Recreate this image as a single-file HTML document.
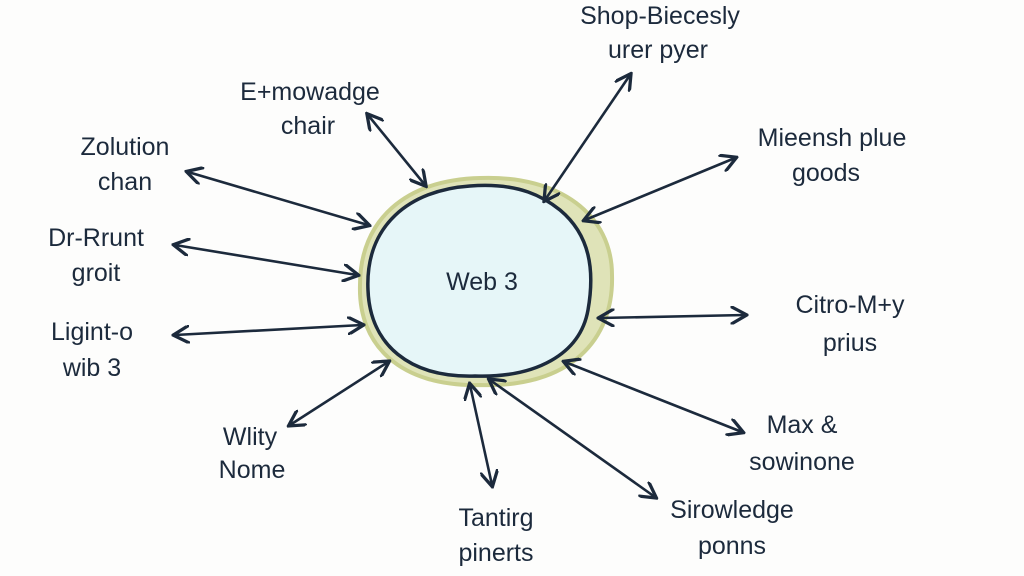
<!DOCTYPE html>
<html><head><meta charset="utf-8"><style>
html,body{margin:0;padding:0;background:#fdfdfc;}
svg{display:block}
text{font-family:"Liberation Sans",sans-serif;font-size:25px;fill:#1c2a3c;text-anchor:middle;}
</style></head><body>
<svg width="1024" height="576" viewBox="0 0 1024 576">
<defs>
<marker id="a" viewBox="0 0 10 10" refX="8" refY="5" markerWidth="7" markerHeight="7" orient="auto-start-reverse">
<path d="M0,0 L9,5 L0,10" fill="none" stroke="#1c2a3c" stroke-width="1.8"/>
</marker>
</defs>
<rect width="1024" height="576" fill="#fdfdfc"/>
<path d="M480,178 C560,175 612,215 612,275 C614,340 570,388 480,385 C400,387 358,345 360,285 C360,220 405,180 480,178 Z" fill="#dfe3b8" stroke="#c9cf8f" stroke-width="4"/>
<path d="M470,186 C520,182 545,198 560,210 C590,235 595,270 588,310 C580,355 535,378 475,376 C410,378 370,345 368,290 C365,225 410,190 470,186 Z" fill="#e6f6f8" stroke="#1c2a3c" stroke-width="3.5"/>
<text x="482" y="290" font-size="27">Web 3</text>
<g stroke="#1c2a3c" stroke-width="2.6" fill="none" marker-start="url(#a)" marker-end="url(#a)">
<line x1="368" y1="115" x2="425" y2="185"/>
<line x1="630" y1="75" x2="545" y2="200"/>
<line x1="735" y1="158" x2="585" y2="220"/>
<line x1="188" y1="172" x2="368" y2="225"/>
<line x1="175" y1="245" x2="357" y2="275"/>
<line x1="175" y1="335" x2="362" y2="325"/>
<line x1="600" y1="318" x2="745" y2="315"/>
<line x1="290" y1="425" x2="388" y2="362"/>
<line x1="565" y1="362" x2="742" y2="432"/>
<line x1="470" y1="385" x2="492" y2="485"/>
<line x1="490" y1="380" x2="655" y2="497"/>
</g>
<text x="660" y="24">Shop-Biecesly</text><text x="658" y="58">urer pyer</text>
<text x="310" y="100">E+mowadge</text><text x="308" y="134">chair</text>
<text x="832" y="146">Mieensh plue</text><text x="826" y="181">goods</text>
<text x="125" y="155">Zolution</text><text x="125" y="190">chan</text>
<text x="96" y="246">Dr-Rrunt</text><text x="96" y="281">groit</text>
<text x="92" y="340">Ligint-o</text><text x="92" y="376">wib 3</text>
<text x="850" y="313">Citro-M+y</text><text x="850" y="351">prius</text>
<text x="250" y="445">Wlity</text><text x="252" y="478">Nome</text>
<text x="802" y="433">Max &amp;</text><text x="802" y="470">sowinone</text>
<text x="496" y="526">Tantirg</text><text x="496" y="561">pinerts</text>
<text x="732" y="518">Sirowledge</text><text x="732" y="554">ponns</text>
</svg>
</body></html>
